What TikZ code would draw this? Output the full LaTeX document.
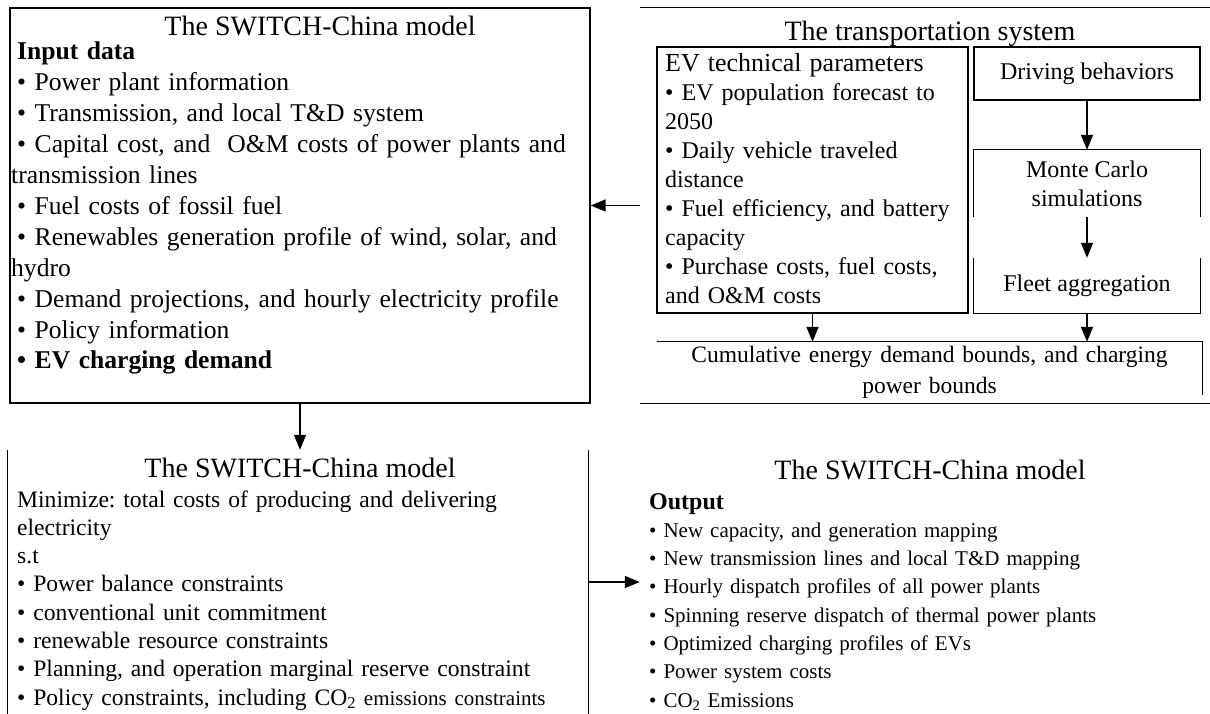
\documentclass[tikz,border=0pt]{standalone}
\usepackage{fontspec}
\setmainfont{Liberation Serif}
\usepackage{tikz}
\usetikzlibrary{arrows.meta, positioning}
\frenchspacing

\newcommand{\itm}{\textbullet\ }
\newcommand{\ind}{\hspace*{6pt}}

\tikzset{
	box/.style={inner sep=0pt, align=center, font=\fontsize{24}{29}\selectfont},
	frame/.style={line width=1.3pt},
	flow/.style={line width=1.5pt, -{Triangle[length=15pt,width=12pt]}},
	head/.style={anchor=base, inner sep=0pt, font=\fontsize{28}{32}\selectfont},
	txt/.style={anchor=base west, inner sep=0pt, align=left},
}

\begin{document}
\begin{tikzpicture}[x=1pt, y=-1pt]
		\useasboundingbox (0,0) rectangle (1210,714);
		%-------------------------------------------------------------------------------
		% SWITCH-China / transportation
		%-------------------------------------------------------------------------------
		
		% frames
		\node[box, draw, frame, minimum width=580pt, minimum height=395pt] (switchin) 
			at (300,205.5) {};
		\node[box, minimum width=570pt, minimum height=395pt] (trans) 
			at (925,205.5) {};
		\node[box, draw, frame, minimum width=311pt, minimum height=266pt] (ev) 
			at (812.5,180) {};
		\node[box, draw, frame, minimum width=226pt, minimum height=53pt] (drive) 
			at (1087,73.5) {Driving behaviors};
		\node[box, minimum width=226pt, minimum height=67pt] (monte) 
			at (1087,183.5) {Monte Carlo\\simulations};
		\node[box, minimum width=226pt, minimum height=55pt] (fleet) 
			at (1087,285.5) {Fleet aggregation};
		\node[box, minimum width=545pt, minimum height=53pt] (cumul) 
			at (929.5,368.5) {};
		\node[box, minimum width=580pt, minimum height=264pt] (optim) 
			at (298,582) {};
		\node[box, minimum width=570pt, minimum height=264pt] (result) 
			at (925,582) {};
		
		% open sides
		\draw[frame] (trans.north west) -- (trans.north east);
		\draw[frame] (trans.south west) -- (trans.south east);
		\draw[frame] (monte.south west) -- (monte.north west) -- (monte.north east) -- (monte.south east);
		\draw[frame] (fleet.north west) -- (fleet.south west) -- (fleet.south east) -- (fleet.north east);
		\draw[frame] (cumul.north west) -- (cumul.north east) -- (cumul.south east);
		\draw[frame] (optim.north west) -- (optim.south west);
		\draw[frame] (optim.north east) -- (optim.south east);
		
		% titles
		\node[head] (tin) at (320,36) {The SWITCH-China model};
		\node[head] (ttrans) at (930,41) {The transportation system};
		\node[head] (topt) at (300,477) {The SWITCH-China model};
		\node[head] (tres) at (930,479) {The SWITCH-China model};
		
		% texts
		\node[txt, text width=575pt, font=\fontsize{25.6}{30.9}\selectfont] (inlist) 
			at (11,60) {\ind\textbf{Input data}\\
			\ind\itm Power plant information\\
			\ind\itm Transmission, and local T\&D system\\
			\ind\itm Capital cost, and \ O\&M costs of power plants and\\
			transmission lines\\
			\ind\itm Fuel costs of fossil fuel\\
			\ind\itm Renewables generation profile of wind, solar, and\\
			hydro\\
			\ind\itm Demand projections, and hourly electricity profile\\
			\ind\itm Policy information\\
			\ind\textbf{\itm EV charging demand}};
		\node[txt, text width=300pt, font=\fontsize{24}{29}\selectfont] (evlist) 
			at (665,72) {{\fontsize{26}{29}\selectfont EV technical parameters}\\
			\itm EV population forecast to\\
			2050\\
			\itm Daily vehicle traveled\\
			distance\\
			\itm Fuel efficiency, and battery\\
			capacity\\
			\itm Purchase costs, fuel costs,\\
			and O\&M costs};
		\node[txt, text width=545pt, align=center, font=\fontsize{23.5}{31}\selectfont] (cumtxt) 
			at (cumul.north west |- 0,362) {Cumulative energy demand bounds, and charging\\
			power bounds};
		\node[txt, text width=565pt, font=\fontsize{23.6}{28.3}\selectfont] (optlist) 
			at (17,507) {Minimize: total costs of producing and delivering\\
			electricity\\
			s.t\\
			\itm Power balance constraints\\
			\itm conventional unit commitment\\
			\itm renewable resource constraints\\
			\itm Planning, and operation marginal reserve constraint\\
			\itm Policy constraints, including CO\textsubscript{2} {\fontsize{21}{28.3}\selectfont emissions constraints}};
		\node[txt, text width=555pt, font=\fontsize{21}{28.3}\selectfont] (reslist) 
			at (649,509) {{\fontsize{24}{28.3}\selectfont\textbf{Output}}\\
			\itm New capacity, and generation mapping\\
			\itm New transmission lines and local T\&D mapping\\
			\itm Hourly dispatch profiles of all power plants\\
			\itm Spinning reserve dispatch of thermal power plants\\
			\itm Optimized charging profiles of EVs\\
			\itm Power system costs\\
			\itm CO\textsubscript{2} Emissions};
		
		% arrows
		\draw[flow] (trans.west) -- (switchin.east);
		\draw[flow] (switchin.south) -- (switchin.south |- optim.north);
		\draw[flow] (optim.east) -- (result.west);
		\draw[flow] (drive.south) -- (monte.north);
		\draw[flow] (monte.south) -- (fleet.north);
		\draw[flow] (ev.south) -- (ev.south |- cumul.north);
		\draw[flow] (fleet.south) -- (fleet.south |- cumul.north);
\end{tikzpicture}
\end{document}
